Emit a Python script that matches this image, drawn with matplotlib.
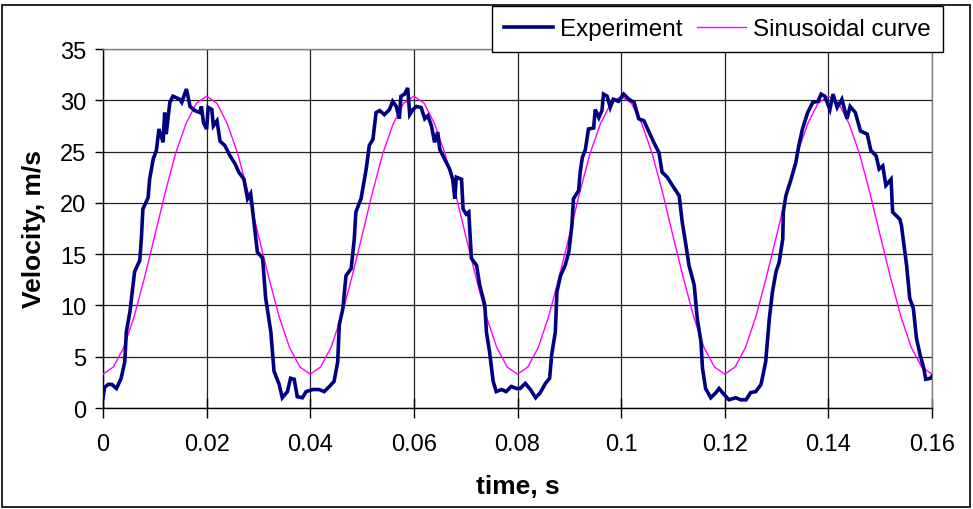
import numpy as np
import matplotlib
matplotlib.use("Agg")
import matplotlib.pyplot as plt
from matplotlib.patches import Rectangle

plt.rcParams['font.family'] = ['Liberation Sans', 'DejaVu Sans']

# measured velocity, time in ms
exp_t_ms = [0, 0.3, 1.0, 1.7, 2.6, 3.5, 4.2, 4.5, 5.2, 5.8, 6.1, 7.1, 7.4, 7.7, 8.7, 9.0, 9.7,
            10.3, 10.8, 11.6, 11.9, 12.2, 12.9, 13.5, 14.8, 15.2, 16.1, 16.8, 17.7, 18.7, 19.0,
            19.4, 20.0, 20.3, 21.0, 21.3, 22.0, 22.6, 23.5, 24.5, 25.5, 26.2, 27.2, 27.9, 28.5,
            29.2, 29.8, 30.8, 31.4, 32.4, 33.0, 34.0, 34.6, 35.6, 36.2, 36.9, 37.5, 38.5, 39.2,
            40.5, 41.7, 42.7, 43.7, 44.6, 45.3, 45.6, 46.3, 46.9, 47.9, 48.5, 48.8, 49.8, 50.8,
            51.4, 52.1, 52.7, 53.4, 54.3, 55.3, 55.9, 56.6, 57.2, 57.5, 58.2, 58.8, 59.2, 59.8,
            60.5, 61.4, 62.1, 62.7, 63.4, 64.0, 64.6, 65.0, 65.9, 66.9, 67.5, 67.9, 68.2, 69.2,
            69.5, 70.1, 70.6, 71.1, 72.1, 72.7, 73.7, 74.0, 74.6, 75.3, 75.9, 76.9, 77.8, 78.8,
            79.8, 80.5, 81.5, 82.5, 83.5, 84.4, 85.4, 86.2, 86.6, 87.3, 87.6, 88.3, 89.2, 89.9,
            90.5, 90.8, 91.8, 92.1, 92.5, 93.1, 93.7, 94.7, 95.0, 95.7, 96.3, 96.6, 97.3, 97.9,
            98.5, 99.5, 100.5, 101.5, 102.5, 103.4, 104.4, 105.4, 106.3, 107.3, 107.9, 108.9,
            109.9, 111.2, 111.8, 112.5, 113.1, 114.1, 114.7, 115.4, 115.7, 116.3, 117.3, 118.3,
            118.9, 119.9, 120.8, 122.1, 123.1, 124.1, 125.0, 126.0, 127.0, 127.9, 128.6, 129.2,
            129.9, 130.5, 131.2, 131.3, 131.8, 132.8, 133.7, 134.3, 135.0, 136.0, 137.0, 138.0,
            138.6, 139.3, 140.3, 140.9, 141.7, 142.6, 143.6, 144.2, 145.2, 146.2, 147.5, 148.2,
            149.2, 149.8, 150.5, 151.1, 152.1, 152.4, 153.8, 154.1, 155.1, 155.7, 156.4, 157.0,
            157.7, 158.4, 158.8, 159.7, 160.0]
exp_v = [1.0, 2.0, 2.3, 2.3, 1.9, 2.9, 4.5, 7.4, 9.4, 12.0, 13.3, 14.4, 16.5, 19.4, 20.5, 22.3, 24.3,
         25.1, 27.2, 25.9, 28.8, 26.7, 29.8, 30.4, 30.1, 29.8, 31.1, 29.4, 29.0, 28.8, 29.4,
         27.8, 27.2, 29.3, 29.1, 27.5, 28.0, 26.0, 25.6, 24.6, 23.8, 23.0, 22.3, 20.4, 20.9,
         17.8, 15.2, 14.6, 10.7, 7.4, 3.6, 2.3, 1.0, 1.6, 2.9, 2.8, 1.1, 1.0, 1.6,
         1.8, 1.8, 1.6, 2.1, 2.6, 4.5, 8.1, 9.7, 12.9, 13.6, 16.5, 19.1, 20.4, 23.3,
         25.6, 26.2, 28.8, 29.0, 28.6, 29.1, 29.9, 29.4, 28.2, 30.4, 30.6, 31.2, 28.6, 29.1,
         29.4, 29.3, 28.2, 28.5, 27.5, 25.9, 26.9, 25.2, 24.3, 23.3, 22.3, 20.4, 22.5, 22.3,
         19.4, 18.9, 19.1, 14.6, 13.9, 12.0, 10.0, 7.4, 5.5, 2.6, 1.6, 1.8, 1.6, 2.1,
         1.9, 1.9, 2.4, 1.8, 1.0, 1.5, 2.4, 2.9, 5.2, 7.4, 11.3, 12.9, 13.9, 15.2,
         17.8, 20.4, 21.2, 23.0, 24.4, 25.2, 27.2, 27.3, 29.1, 28.3, 29.0, 30.6, 30.4, 29.3,
         30.1, 29.9, 30.6, 30.1, 29.8, 28.2, 28.0, 26.9, 25.9, 24.9, 23.0, 22.5,
         21.7, 20.7, 18.1, 15.9, 13.9, 12.0, 8.7, 6.5, 3.9, 1.9, 1.0, 1.5,
         1.9, 1.3, 0.8, 1.0, 0.8, 0.8, 1.5, 1.6, 2.3, 4.5, 8.7, 11.3,
         13.3, 14.2, 16.5, 19.1, 20.7, 22.3, 23.9, 25.6, 27.2, 28.8, 29.8, 29.9,
         30.6, 30.4, 29.1, 30.6, 29.3, 30.1, 28.2, 29.4, 28.8, 27.0, 26.7, 25.1,
         24.6, 23.3, 23.6, 21.7, 22.3, 19.1, 18.4, 17.8, 13.9, 10.7, 9.7, 6.8,
         5.2, 3.9, 2.8, 2.9, 3.1]

# fitted sinusoid, sampled every 2 ms
sin_t_ms = np.arange(0, 161, 2)
sin_v = [3.3, 4.0, 5.9, 8.9, 12.7, 16.8, 21.0, 24.8, 27.7, 29.7,
         30.4, 29.7, 27.7, 24.8, 21.0, 16.8, 12.7, 8.9, 5.9, 4.0,
         3.3, 4.0, 5.9, 8.9, 12.7, 16.8, 21.0, 24.8, 27.7, 29.7,
         30.4, 29.7, 27.7, 24.8, 21.0, 16.8, 12.7, 8.9, 5.9, 4.0,
         3.3, 4.0, 5.9, 8.9, 12.7, 16.8, 21.0, 24.8, 27.7, 29.7,
         30.4, 29.7, 27.7, 24.8, 21.0, 16.8, 12.7, 8.9, 5.9, 4.0,
         3.3, 4.0, 5.9, 8.9, 12.7, 16.8, 21.0, 24.8, 27.7, 29.7,
         30.4, 29.7, 27.7, 24.8, 21.0, 16.8, 12.7, 8.9, 5.9, 4.0,
         3.3]

x_ticks = [0, 0.02, 0.04, 0.06, 0.08, 0.1, 0.12, 0.14, 0.16]
x_tick_labels = ['0', '0.02', '0.04', '0.06', '0.08', '0.1', '0.12', '0.14', '0.16']
y_ticks = [0, 5, 10, 15, 20, 25, 30, 35]

W, H = 973, 510
fig = plt.figure(figsize=(W / 100, H / 100), dpi=100)
ax = fig.add_axes([103 / W, 1 - 409 / H, (932 - 103) / W, (409 - 50) / H])

ax.plot(np.array(exp_t_ms) / 1000, exp_v, color='#000080', lw=2.6, label='Experiment',
        solid_joinstyle='miter', zorder=4)
ax.plot(sin_t_ms / 1000, sin_v, color='#ff00ff', lw=1.0, label='Sinusoidal curve', zorder=3)

ax.set_xlim(0, 0.16)
ax.set_ylim(0, 35)
ax.set_xticks(x_ticks)
ax.set_xticklabels(x_tick_labels)
ax.set_yticks(y_ticks)
ax.grid(True, color='#202020', lw=0.9)
ax.set_axisbelow(True)

for s in ['left', 'bottom']:
    ax.spines[s].set_color('black')
    ax.spines[s].set_linewidth(1.0)
for s in ['top', 'right']:
    ax.spines[s].set_color('#808080')
    ax.spines[s].set_linewidth(1.0)

ax.tick_params(axis='y', direction='out', length=6, width=1, labelsize=17, pad=6)
ax.tick_params(axis='x', direction='inout', length=14, width=1, labelsize=17, pad=11)

ax.set_xlabel('time, s', fontsize=19, fontweight='bold', labelpad=14)
ax.set_ylabel('Velocity, m/s', fontsize=19, fontweight='bold', labelpad=10)

leg = fig.legend(loc='upper right', bbox_to_anchor=(943 / W, 1 - 7 / H), ncol=2,
                 fontsize=17.5, frameon=True, fancybox=False, borderaxespad=0,
                 handlelength=2.0, handletextpad=0.3, columnspacing=0.6, borderpad=0.5)
leg.get_frame().set_edgecolor('black')
leg.get_frame().set_linewidth(1.0)
leg.get_frame().set_alpha(1)

# outer chart border
fig.patches.append(Rectangle((2 / W, 2 / H), 968 / W, 502 / H, transform=fig.transFigure,
                             fill=False, edgecolor='black', lw=1.2, zorder=10))

fig.savefig('out.png', dpi=100)
